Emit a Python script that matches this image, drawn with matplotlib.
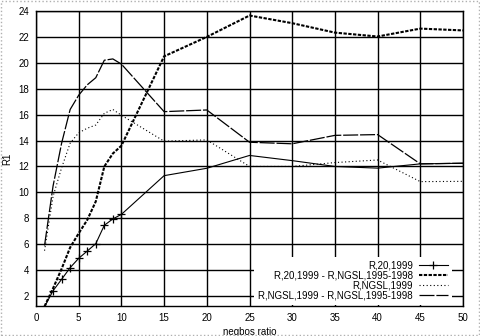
import matplotlib
matplotlib.use("Agg")
import matplotlib.pyplot as plt
from matplotlib.patches import Rectangle

plt.rcParams['font.family'] = ['Liberation Sans', 'DejaVu Sans']

ratio = [1, 2, 3, 4, 5, 6, 7, 8, 9, 10, 15, 20, 25, 30, 35, 40, 45, 50]

r20_1999 = [1.17, 2.41, 3.29, 4.19, 4.91, 5.47, 6.04, 7.46, 7.95, 8.3,
            11.29, 11.86, 12.85, 12.45, 12.0, 11.87, 12.2, 12.25]
r20_minus_ngsl = [1.2, 2.6, 4.1, 5.75, 6.84, 7.87, 9.3, 12.0, 13.0, 13.6,
                  20.5, 22.0, 23.65, 23.06, 22.33, 22.03, 22.64, 22.5]
ngsl_1999 = [5.5, 9.7, 11.9, 13.8, 14.6, 14.95, 15.2, 16.1, 16.4, 15.95,
             13.95, 14.05, 12.0, 12.0, 12.3, 12.5, 10.83, 10.85]
ngsl_minus_ngsl = [5.9, 10.5, 13.8, 16.4, 17.5, 18.3, 18.85, 20.2, 20.3, 19.9,
                   16.23, 16.36, 13.87, 13.75, 14.4, 14.46, 12.2, 12.25]

labels = ["R,20,1999",
          "R,20,1999 - R,NGSL,1995-1998",
          "R,NGSL,1999",
          "R,NGSL,1999 - R,NGSL,1995-1998"]

fig = plt.figure(figsize=(4.8, 3.36), dpi=100)
ax = fig.add_axes([0.075, 0.0893, 0.8896, 0.878])

ax.plot(ratio, r20_1999, color='black', lw=0.8, marker='+', ms=5.5, mew=0.9,
        markevery=list(range(10)), label=labels[0])
ax.plot(ratio, r20_minus_ngsl, color='black', lw=1.5, dashes=(1.6, 0.7),
        label=labels[1])
ax.plot(ratio, ngsl_1999, color='black', lw=0.8, dashes=(1, 2.2),
        label=labels[2])
ax.plot(ratio, ngsl_minus_ngsl, color='black', lw=0.9, dashes=(12, 1.5),
        label=labels[3])

ax.set_xlim(0, 50)
ax.set_ylim(1.23, 24)
ax.set_xticks(range(0, 51, 5))
ax.set_yticks(range(2, 25, 2))
ax.grid(True, color='black', lw=1.0)
ax.set_axisbelow(True)
ax.tick_params(length=0, labelsize=7, pad=5)
for s in ax.spines.values():
    s.set_linewidth(1.0)

ax.set_xlabel("negbos ratio", fontsize=7, labelpad=3)
ax.set_ylabel("R1", fontsize=7, labelpad=4)

leg = ax.legend(loc='lower right', bbox_to_anchor=(0.985, -0.012), fontsize=7,
                markerfirst=False, handlelength=3.0, handletextpad=0.6,
                labelspacing=0.0, borderpad=0.4, frameon=True, fancybox=False)
leg.get_frame().set_edgecolor('none')
leg.get_frame().set_facecolor('white')
leg.get_frame().set_alpha(1)
for t in leg.get_texts():
    t.set_ha('right')

fig.patches.append(Rectangle((0.002, 0.003), 0.996, 0.994, transform=fig.transFigure,
                             fill=False, edgecolor='#b0b0b0', lw=1, ls=':'))

fig.savefig("out.png", dpi=100)
